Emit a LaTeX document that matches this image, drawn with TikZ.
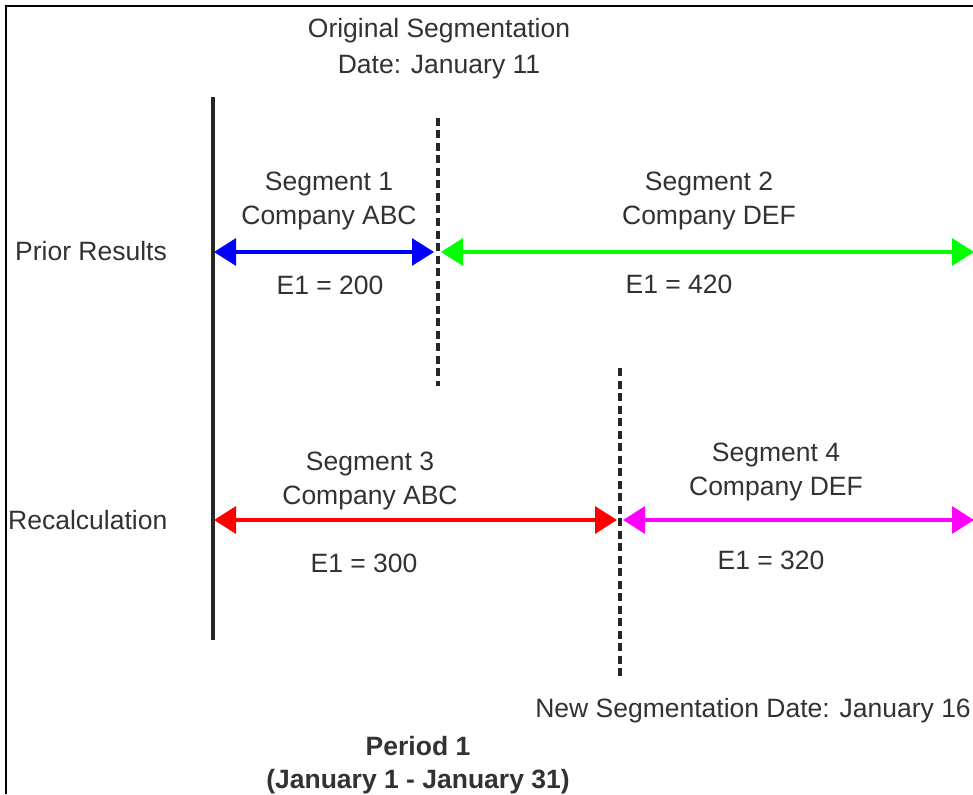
\documentclass[tikz,border=0pt]{standalone}
\usepackage{fontspec}
\setmainfont{Liberation Sans}
\usetikzlibrary{arrows.meta}
\definecolor{txt}{RGB}{50,50,50}
\definecolor{cblue}{RGB}{0,0,255}
\definecolor{cgreen}{RGB}{0,255,0}
\definecolor{cred}{RGB}{255,0,0}
\definecolor{cmag}{RGB}{255,0,255}
\tikzset{
  lbl/.style={text=txt, font=\fontsize{26.5pt}{34pt}\selectfont, inner sep=0pt, align=center},
  seg/.style={line width=3.2pt, {Triangle[length=22pt,width=27pt]}-{Triangle[length=22pt,width=27pt]}},
  divider/.style={line width=3.2pt, black!85, dash pattern=on 8pt off 4.5pt},
  axis/.style={line width=3.2pt, black!85},
}
\begin{document}
\begin{tikzpicture}[x=1pt,y=-1pt]
\useasboundingbox (0,0) rectangle (973,794);
\fill[white] (0,0) rectangle (973,794);
\draw[line width=2.2pt] (6,794) -- (6,6) -- (973,6);
% vertical lines
\coordinate (axT) at (213,97);
\coordinate (axB) at (213,640);
\draw[axis] (axT) -- (axB);
\coordinate (d1T) at (438,118);
\coordinate (d1B) at (438,386);
\draw[divider] (d1T) -- (d1B);
\coordinate (d2T) at (620,368);
\coordinate (d2B) at (620,676);
\draw[divider] (d2T) -- (d2B);
% arrows
\coordinate (a1) at (214,252);
\coordinate (a2) at (434,252);
\coordinate (a3) at (441,252);
\coordinate (a4) at (974,252);
\coordinate (b1) at (214,520);
\coordinate (b2) at (617,520);
\coordinate (b3) at (623,520);
\coordinate (b4) at (974,520);
\draw[seg, cblue] (a1) -- (a2);
\draw[seg, cgreen] (a3) -- (a4);
\draw[seg, cred] (b1) -- (b2);
\draw[seg, cmag] (b3) -- (b4);
% labels
\node[lbl, font=\fontsize{26.5pt}{36pt}\selectfont] (orig) at (439,49) {Original Segmentation\\Date: January 11};
\node[lbl] (s1) at (329,201) {Segment 1\\Company ABC};
\node[lbl] (s2) at (709,201) {Segment 2\\Company DEF};
\node[lbl, anchor=west] (prior) at (15,251) {Prior Results};
\node[lbl] (e1) at (330,285) {E1 = 200};
\node[lbl] (e2) at (679,284) {E1 = 420};
\node[lbl] (s3) at (370,481) {Segment 3\\Company ABC};
\node[lbl] (s4) at (776,472) {Segment 4\\Company DEF};
\node[lbl, anchor=west] (recalc) at (8,520) {Recalculation};
\node[lbl] (e3) at (364,563) {E1 = 300};
\node[lbl] (e4) at (771,560) {E1 = 320};
\node[lbl, anchor=east] (newseg) at (971,711) {New Segmentation Date: January 16};
\node[lbl, font=\fontsize{26.5pt}{33pt}\selectfont\bfseries] (period) at (418,765) {Period 1\\(January 1 - January 31)};
\end{tikzpicture}
\end{document}
